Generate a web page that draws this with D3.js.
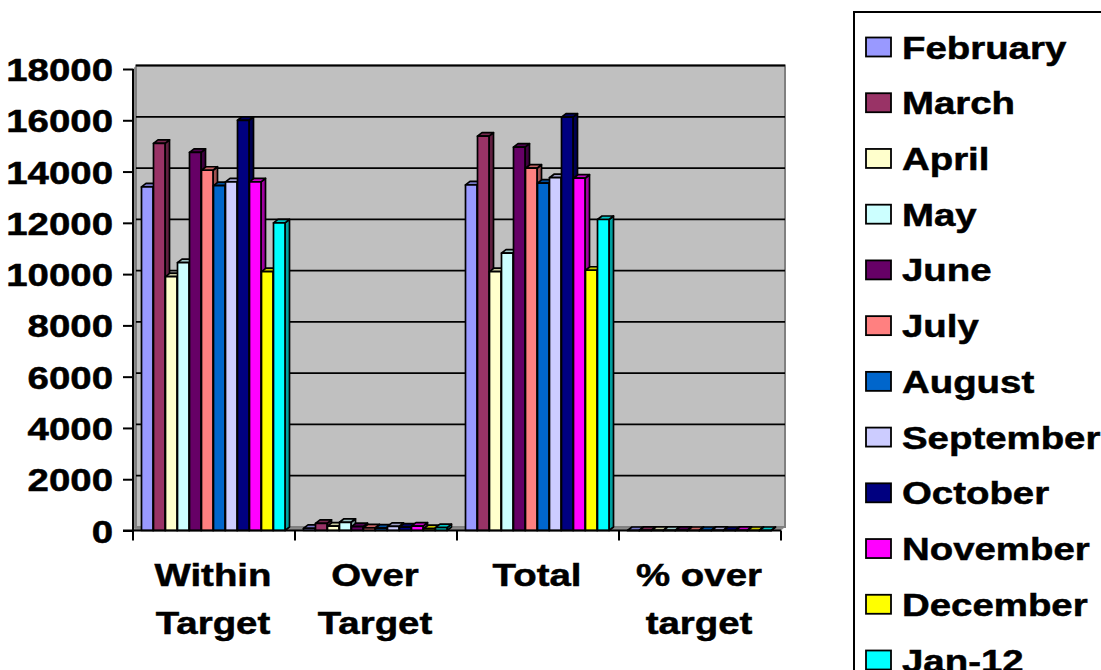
<!DOCTYPE html>
<html>
<head>
<meta charset="utf-8">
<script src="https://cdn.jsdelivr.net/npm/d3@7"></script>
<style>
  html, body { margin: 0; padding: 0; background: #fff; }
  svg { display: block; }
  text { font-family: "Liberation Sans", Arial, sans-serif; font-weight: bold; }
</style>
</head>
<body>
<svg id="chart" width="1101" height="670"></svg>
<script>
// Categories along the x axis (label lines)
const categories = ["Within Target", "Over Target", "Total", "% over target"];
const categoryLines = [["Within", "Target"], ["Over", "Target"], ["Total"], ["% over", "target"]];

// Months (one series each)
const months = ["February", "March", "April", "May", "June", "July", "August",
                "September", "October", "November", "December", "Jan-12"];
const monthColors = ["#9999FF", "#993366", "#FFFFCC", "#CCFFFF", "#660066", "#FF8080",
                     "#0066CC", "#CCCCFF", "#000080", "#FF00FF", "#FFFF00", "#00FFFF"];

// Values per category, one entry per month
const withinTarget = [13400, 15100, 9900, 10450, 14750, 14050, 13450, 13600, 16000, 13600, 10100, 12000];
const overTarget   = [80, 280, 170, 320, 150, 100, 90, 160, 130, 170, 70, 110];
const totalValues  = [13480, 15380, 10100, 10820, 14950, 14130, 13550, 13760, 16120, 13740, 10150, 12130];
const pctOver      = [0.6, 1.8, 1.7, 3.0, 1.0, 0.7, 0.7, 1.2, 0.8, 1.2, 0.7, 0.9];

// Y axis ticks
const yTicks = [0, 2000, 4000, 6000, 8000, 10000, 12000, 14000, 16000, 18000];

const seriesByCategory = [withinTarget, overTarget, totalValues, pctOver];

const svg = d3.select("#chart");
const stretch = 1.2;          // wide bold lettering
const fontPx = 32;
const depth = { dx: 4.5, dy: -3.5 };   // bar depth
const wallOff = { dx: 3, dy: -3.5 };   // back wall offset

const y = d3.scaleLinear().domain([0, 18000]).range([530.5, 69]);
const x0 = d3.scaleBand().domain(categories).range([133, 781]).padding(0);
const x1 = d3.scaleBand().domain(months).range([8.5, 8.5 + 12 * 12]).padding(0);

const plotLeft = x0.range()[0], plotRight = x0.range()[1];
const yBase = y(0), yTop = y(18000);

// Side wall
svg.append("polygon")
  .attr("points", [[plotLeft, yTop], [plotLeft + wallOff.dx, yTop + wallOff.dy],
                   [plotLeft + wallOff.dx, yBase + wallOff.dy], [plotLeft, yBase]].join(" "))
  .attr("fill", "#8c8c8c");

// Floor
svg.append("polygon")
  .attr("points", [[plotLeft, yBase], [plotLeft + wallOff.dx, yBase + wallOff.dy],
                   [plotRight + wallOff.dx + 1, yBase + wallOff.dy], [plotRight, yBase]].join(" "))
  .attr("fill", "#8c8c8c");

// Back wall
svg.append("rect")
  .attr("x", plotLeft + wallOff.dx)
  .attr("y", yTop + wallOff.dy)
  .attr("width", plotRight - plotLeft + 1)
  .attr("height", yBase - yTop)
  .attr("fill", "#C0C0C0")
  .attr("stroke", "#808080")
  .attr("stroke-width", 2);

// Gridlines on the back wall
svg.append("g").selectAll("line")
  .data(yTicks.filter(v => v > 0))
  .join("line")
  .attr("x1", plotLeft + wallOff.dx)
  .attr("x2", plotRight + wallOff.dx + 1)
  .attr("y1", d => y(d) + wallOff.dy)
  .attr("y2", d => y(d) + wallOff.dy)
  .attr("stroke", "#000")
  .attr("stroke-width", 1.8);

// 3D bars
const barW = 11.5;
const bars = svg.append("g");
categories.forEach((cat, ci) => {
  const vals = seriesByCategory[ci];
  months.forEach((m, mi) => {
    const v = vals[mi];
    const bx = x0(cat) + x1(m);
    const by = y(v);
    const c = d3.color(monthColors[mi]);
    const g = bars.append("g")
      .attr("stroke", "#000")
      .attr("stroke-width", 1.7)
      .attr("stroke-linejoin", "round");
    // right side face
    g.append("polygon")
      .attr("points", [[bx + barW, by], [bx + barW + depth.dx, by + depth.dy],
                       [bx + barW + depth.dx, yBase + depth.dy], [bx + barW, yBase]].join(" "))
      .attr("fill", c.darker(1.3).formatHex());
    // top face
    g.append("polygon")
      .attr("points", [[bx, by], [bx + depth.dx, by + depth.dy],
                       [bx + barW + depth.dx, by + depth.dy], [bx + barW, by]].join(" "))
      .attr("fill", c.darker(0.7).formatHex());
    // front face
    g.append("rect")
      .attr("x", bx)
      .attr("y", by)
      .attr("width", barW)
      .attr("height", Math.max(0, yBase - by))
      .attr("fill", c.formatHex());
  });
});

// Y axis
const yAxis = svg.append("g")
  .attr("transform", `translate(${plotLeft},0)`)
  .call(d3.axisLeft(y).tickValues(yTicks).tickSize(10).tickFormat(d3.format("d")));
yAxis.select(".domain").attr("stroke", "#000").attr("stroke-width", 2)
  .attr("d", `M0,${yTop}V${yBase}`);
yAxis.selectAll(".tick line").attr("stroke", "#000").attr("stroke-width", 2);
yAxis.selectAll(".tick text")
  .attr("x", 0)
  .attr("dy", "0.36em")
  .attr("transform", `translate(-20,0) scale(${stretch},1)`)
  .attr("fill", "#000")
  .attr("stroke", "#000")
  .attr("stroke-width", 0.5)
  .style("font-size", fontPx + "px")
  .style("font-family", "'Liberation Sans', Arial, sans-serif")
  .style("font-weight", "bold");

// X axis
const xAxisG = svg.append("g");
xAxisG.append("line")
  .attr("x1", plotLeft - 10).attr("x2", plotRight)
  .attr("y1", yBase).attr("y2", yBase)
  .attr("stroke", "#000").attr("stroke-width", 2);
const tickXs = categories.map(c => x0(c)).concat([plotRight]);
xAxisG.selectAll("line.tk")
  .data(tickXs)
  .join("line")
  .attr("class", "tk")
  .attr("x1", d => d).attr("x2", d => d)
  .attr("y1", yBase).attr("y2", yBase + 10)
  .attr("stroke", "#000").attr("stroke-width", 2);

// Category labels
categories.forEach((cat, ci) => {
  const cx = x0(cat) + x0.bandwidth() / 2 - 1;
  const t = svg.append("text")
    .attr("transform", `translate(${cx},0) scale(${stretch},1)`)
    .attr("text-anchor", "middle")
    .style("font-size", fontPx + "px")
    .attr("fill", "#000")
    .attr("stroke", "#000")
    .attr("stroke-width", 0.5);
  categoryLines[ci].forEach((line, li) => {
    t.append("tspan").attr("x", 0).attr("y", 586 + li * 48).text(line);
  });
});

// Legend
const legend = svg.append("g");
legend.append("rect")
  .attr("x", 854).attr("y", 12)
  .attr("width", 270).attr("height", 700)
  .attr("fill", "#fff")
  .attr("stroke", "#000")
  .attr("stroke-width", 2);
const rowY = d3.scalePoint().domain(months).range([47, 660]);
months.forEach((m, mi) => {
  const cy = rowY(m);
  legend.append("rect")
    .attr("x", 866).attr("y", cy - 9.5)
    .attr("width", 25).attr("height", 19)
    .attr("fill", monthColors[mi])
    .attr("stroke", "#000")
    .attr("stroke-width", 1.8);
  legend.append("text")
    .attr("transform", `translate(902,${cy + 11.5}) scale(${stretch},1)`)
    .style("font-size", fontPx + "px")
    .attr("fill", "#000")
    .attr("stroke", "#000")
    .attr("stroke-width", 0.5)
    .text(m);
});
</script>
</body>
</html>
